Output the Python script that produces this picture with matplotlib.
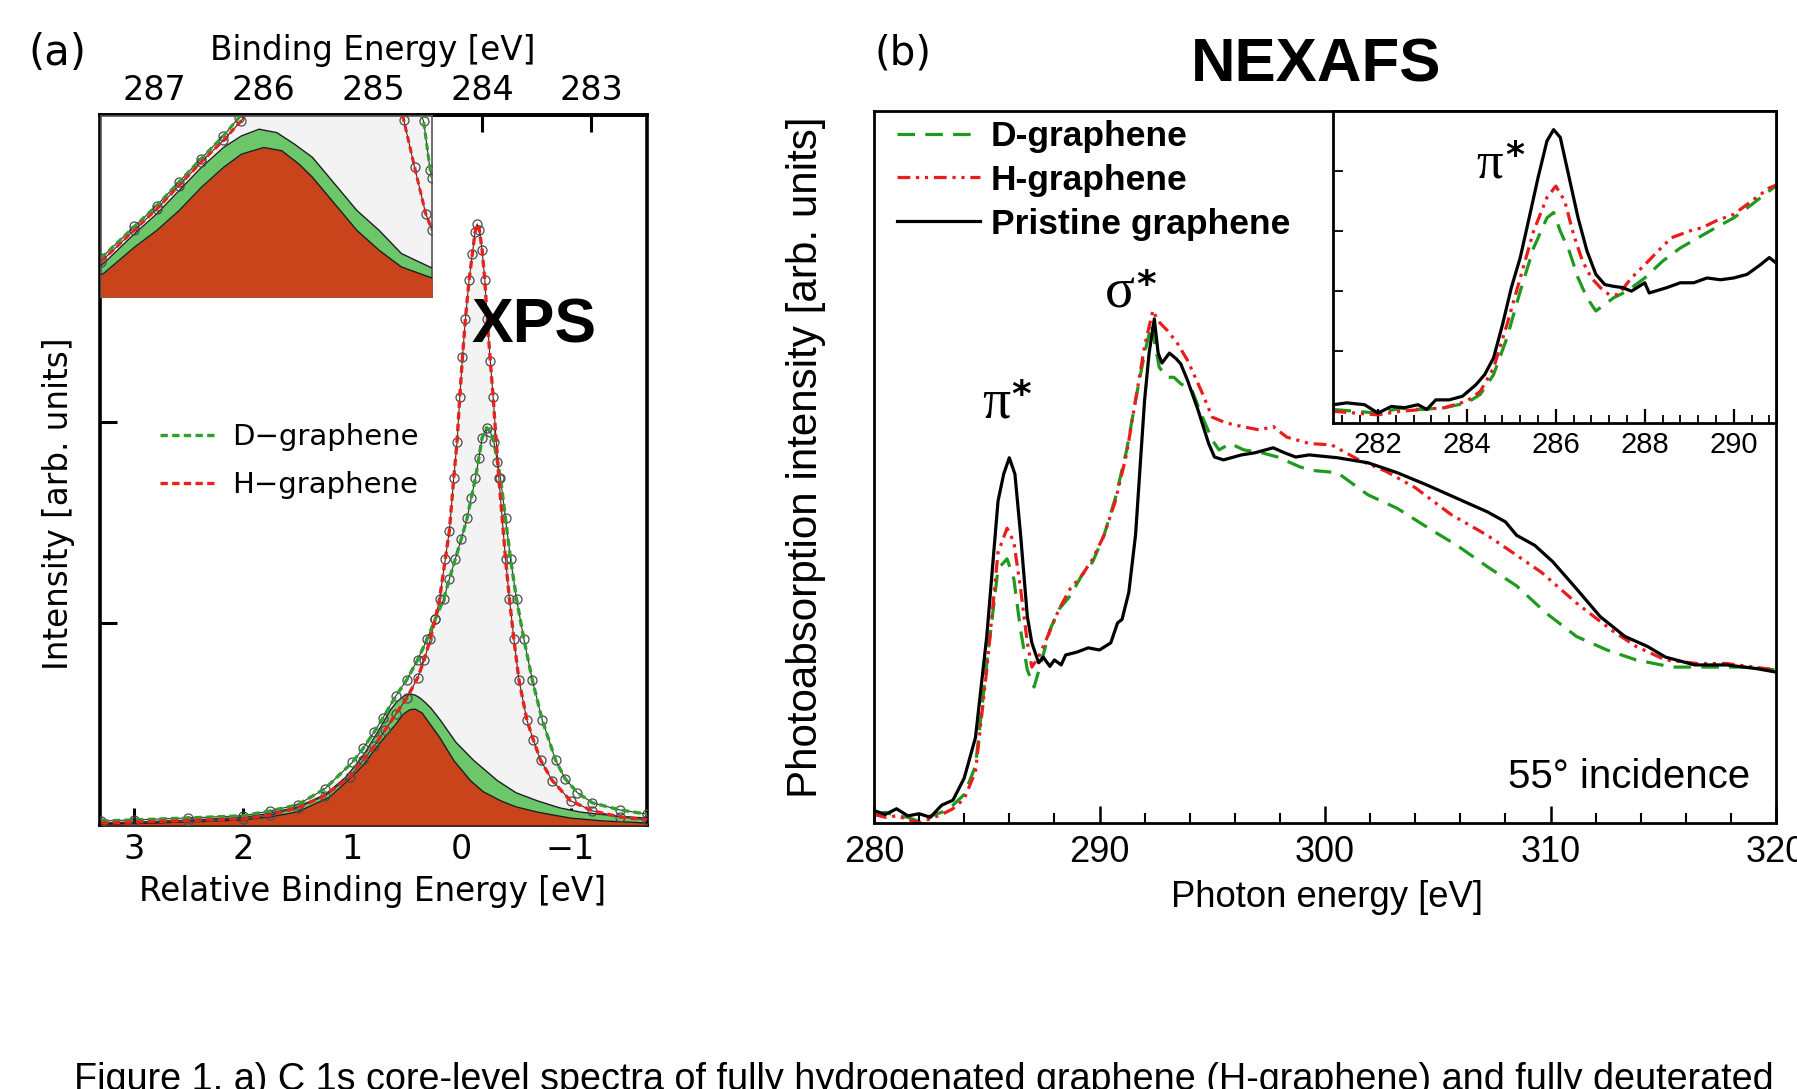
import matplotlib
matplotlib.use("Agg")
import matplotlib.pyplot as plt
from matplotlib.ticker import MultipleLocator

# ----------------------------------------------------------------------------
# DATA
# ----------------------------------------------------------------------------
# Panel (a) XPS, x = relative binding energy [eV], y = intensity [arb.]
xps_H_total = [(3.30, 0.010), (3.00, 0.015), (2.50, 0.022), (2.00, 0.030), (1.75, 0.050),
               (1.50, 0.085), (1.25, 0.145), (1.02, 0.24), (0.90, 0.32), (0.80, 0.39),
               (0.70, 0.47), (0.60, 0.55), (0.50, 0.63), (0.40, 0.73), (0.34, 0.82),
               (0.285, 0.92), (0.24, 1.02), (0.20, 1.12), (0.147, 1.32), (0.11, 1.46),
               (0.07, 1.72), (0.04, 1.90), (0.015, 2.12), (-0.01, 2.32), (-0.037, 2.51),
               (-0.07, 2.70), (-0.10, 2.83), (-0.125, 2.94), (-0.144, 2.98), (-0.165, 2.95),
               (-0.19, 2.85), (-0.215, 2.70), (-0.236, 2.51), (-0.265, 2.30), (-0.291, 2.12),
               (-0.343, 1.72), (-0.404, 1.32), (-0.44, 1.12), (-0.481, 0.92), (-0.527, 0.72),
               (-0.60, 0.52), (-0.66, 0.42), (-0.726, 0.32), (-0.833, 0.22), (-1.00, 0.12),
               (-1.20, 0.07), (-1.45, 0.04), (-1.70, 0.025)]
xps_D_total = [(3.30, 0.020), (3.00, 0.025), (2.50, 0.035), (2.00, 0.046), (1.75, 0.070),
               (1.50, 0.100), (1.25, 0.180), (1.00, 0.31), (0.90, 0.38), (0.80, 0.46),
               (0.72, 0.53), (0.60, 0.64), (0.50, 0.72), (0.40, 0.82), (0.315, 0.92),
               (0.24, 1.02), (0.162, 1.12), (0.11, 1.22), (0.055, 1.32), (0.00, 1.42),
               (-0.052, 1.52), (-0.09, 1.62), (-0.129, 1.72), (-0.16, 1.82), (-0.19, 1.92),
               (-0.23, 1.97), (-0.265, 1.95), (-0.297, 1.90), (-0.33, 1.80), (-0.358, 1.72),
               (-0.404, 1.52), (-0.45, 1.32), (-0.505, 1.12), (-0.573, 0.92), (-0.649, 0.72),
               (-0.741, 0.52), (-0.864, 0.32), (-0.95, 0.23), (-1.063, 0.16), (-1.20, 0.11),
               (-1.45, 0.075), (-1.70, 0.054)]
xps_D_comp = [(3.30, 0.010), (3.00, 0.013), (2.50, 0.024), (2.00, 0.038), (1.75, 0.058),
              (1.50, 0.090), (1.25, 0.150), (1.06, 0.236), (0.91, 0.335), (0.756, 0.47),
              (0.65, 0.57), (0.60, 0.605), (0.55, 0.63), (0.51, 0.643), (0.469, 0.65),
              (0.42, 0.643), (0.38, 0.63), (0.33, 0.607), (0.28, 0.58), (0.193, 0.52),
              (0.05, 0.41), (-0.113, 0.32), (-0.33, 0.22), (-0.50, 0.16), (-0.695, 0.12),
              (-0.90, 0.085), (-1.09, 0.064), (-1.40, 0.045), (-1.70, 0.034)]
xps_H_comp = [(3.30, 0.005), (3.00, 0.008), (2.50, 0.015), (2.00, 0.025), (1.75, 0.040),
              (1.50, 0.065), (1.21, 0.137), (1.06, 0.21), (0.909, 0.29), (0.756, 0.40),
              (0.60, 0.50), (0.53, 0.55), (0.47, 0.572), (0.42, 0.574), (0.36, 0.555),
              (0.30, 0.51), (0.20, 0.435), (0.07, 0.32), (-0.083, 0.22), (-0.20, 0.165),
              (-0.36, 0.12), (-0.50, 0.09), (-0.695, 0.064), (-1.00, 0.034), (-1.30, 0.020),
              (-1.70, 0.010)]
xps_xticks = [3, 2, 1, 0, -1]
xps_xticklabels = ['3', '2', '1', '0', '\u22121']
be_offset = 284.19                     # binding energy = relative + offset
be_ticks = [287, 286, 285, 284, 283]
xps_yticks = [1, 2, 3]

# Panel (a) inset (zoom on the low-intensity component; own normalisation)
ins_H_total = [(1.61, 0.195), (1.37, 0.37), (1.21, 0.485), (1.05, 0.615), (0.89, 0.745),
               (0.73, 0.865), (0.60, 0.975), (0.50, 1.10), (0.0, 4.0), (-0.52, 1.15),
               (-0.566, 0.98), (-0.645, 0.716), (-0.725, 0.46), (-0.77, 0.37)]
ins_D_total = [(1.61, 0.215), (1.37, 0.39), (1.21, 0.505), (1.05, 0.635), (0.89, 0.765),
               (0.73, 0.89), (0.62, 0.99), (0.55, 1.10), (0.0, 3.0), (-0.62, 1.15),
               (-0.71, 0.97), (-0.757, 0.70), (-0.77, 0.66)]
ins_D_comp = [(1.61, 0.175), (1.591, 0.185), (1.368, 0.35), (1.208, 0.46), (1.048, 0.588),
              (0.888, 0.716), (0.729, 0.826), (0.60, 0.89), (0.473, 0.927), (0.345, 0.908),
              (0.218, 0.844), (0.089, 0.771), (-0.07, 0.625), (-0.23, 0.478), (-0.39, 0.368),
              (-0.55, 0.24), (-0.77, 0.16)]
ins_H_comp = [(1.61, 0.125), (1.591, 0.13), (1.368, 0.276), (1.208, 0.368), (1.048, 0.478),
              (0.888, 0.606), (0.729, 0.716), (0.60, 0.789), (0.44, 0.826), (0.31, 0.808),
              (0.186, 0.734), (0.089, 0.661), (-0.07, 0.515), (-0.23, 0.368), (-0.39, 0.258),
              (-0.55, 0.166), (-0.77, 0.105)]
ins_xticks = [1, 0]

# Panel (b) NEXAFS, x = photon energy [eV], y = intensity [arb.]
nex_pristine = [(280, 0.0175), (280.5, 0.012), (281, 0.02), (281.5, 0.01), (282, 0.013),
                (282.5, 0.008), (283, 0.025), (283.5, 0.032), (284, 0.063), (284.5, 0.12),
                (285, 0.262), (285.5, 0.452), (285.75, 0.49), (286, 0.513), (286.25, 0.49),
                (286.5, 0.405), (286.8, 0.29), (287, 0.253), (287.3, 0.225), (287.5, 0.233),
                (287.8, 0.22), (288, 0.229), (288.3, 0.222), (288.5, 0.236), (289, 0.24),
                (289.5, 0.246), (290, 0.243), (290.5, 0.253), (290.8, 0.281), (291, 0.286),
                (291.3, 0.324), (291.6, 0.405), (291.8, 0.50), (292.0, 0.594), (292.2, 0.66),
                (292.43, 0.708), (292.6, 0.66), (292.77, 0.646), (293.1, 0.66), (293.4, 0.652),
                (293.6, 0.645), (293.9, 0.622), (294.37, 0.58), (294.84, 0.533), (295.1, 0.514),
                (295.5, 0.51), (296.3, 0.517), (296.9, 0.52), (297.7, 0.527), (298.2, 0.52),
                (298.7, 0.514), (299.3, 0.517), (300.55, 0.513), (301.9, 0.506), (303.2, 0.492),
                (304.5, 0.475), (305.85, 0.456), (307.2, 0.437), (308.0, 0.423), (308.5, 0.404),
                (309.3, 0.39), (310.1, 0.367), (311.15, 0.329), (312.2, 0.29), (313.3, 0.262),
                (314.3, 0.248), (315.1, 0.233), (316.4, 0.222), (317.8, 0.222), (319.1, 0.217),
                (320, 0.212)]
nex_H = [(280, 0.012), (280.5, 0.008), (281, 0.01), (281.5, 0.005), (282, 0.0),
         (282.5, 0.006), (283, 0.012), (283.5, 0.02), (284, 0.034), (284.5, 0.072),
         (285, 0.215), (285.5, 0.38), (285.9, 0.414), (286.2, 0.395), (286.5, 0.329),
         (286.8, 0.253), (287.0, 0.219), (287.3, 0.233), (287.7, 0.262), (288.2, 0.30),
         (288.7, 0.329), (289.2, 0.347), (289.7, 0.371), (290.2, 0.404), (290.7, 0.452),
         (291.2, 0.518), (291.6, 0.594), (292.0, 0.67), (292.37, 0.72), (292.6, 0.705),
         (293.0, 0.692), (293.45, 0.674), (293.9, 0.65), (294.5, 0.608), (295.0, 0.57),
         (295.6, 0.562), (296.3, 0.557), (297.1, 0.552), (297.7, 0.557), (298.3, 0.542),
         (299.3, 0.533), (300.3, 0.531), (301.5, 0.51), (302.7, 0.494), (304.0, 0.471),
         (305.6, 0.433), (307.2, 0.404), (308.5, 0.376), (309.6, 0.352), (311.15, 0.309),
         (312.7, 0.271), (313.8, 0.248), (315.1, 0.229), (316.5, 0.224), (317.8, 0.224),
         (320, 0.215)]
nex_D = [(280, 0.012), (280.5, 0.015), (281, 0.01), (281.5, 0.008), (282, 0.002),
         (282.5, 0.01), (283, 0.015), (283.5, 0.025), (284, 0.04), (284.5, 0.08),
         (285, 0.224), (285.5, 0.357), (285.9, 0.371), (286.2, 0.343), (286.5, 0.271),
         (286.8, 0.215), (287.1, 0.191), (287.4, 0.224), (287.8, 0.271), (288.2, 0.30),
         (288.7, 0.319), (289.2, 0.347), (289.7, 0.367), (290.2, 0.404), (290.7, 0.456),
         (291.2, 0.523), (291.6, 0.594), (292.0, 0.66), (292.3, 0.70), (292.65, 0.64),
         (293.0, 0.626), (293.3, 0.626), (293.6, 0.617), (294.1, 0.608), (294.5, 0.575),
         (295.0, 0.538), (295.3, 0.524), (295.8, 0.533), (296.4, 0.524), (297.2, 0.52),
         (297.9, 0.514), (298.9, 0.50), (299.5, 0.495), (300.55, 0.492), (301.9, 0.461),
         (303.2, 0.442), (304.8, 0.41), (305.85, 0.39), (307.2, 0.36), (308.5, 0.333),
         (309.8, 0.295), (311.15, 0.262), (312.5, 0.243), (313.8, 0.229), (315.4, 0.219),
         (317.0, 0.219), (318.6, 0.219), (320, 0.215)]
nex_xticks = [280, 290, 300, 310, 320]

# Panel (b) inset: pi* region
ins_pristine = [(281.0, 0.11), (281.3, 0.14), (281.7, 0.11), (282.0, -0.03), (282.3, 0.08),
                (282.6, 0.06), (282.9, 0.11), (283.1, 0.03), (283.3, 0.19), (283.6, 0.19),
                (283.9, 0.25), (284.2, 0.44), (284.4, 0.61), (284.6, 0.89), (284.8, 1.44),
                (285.0, 2.06), (285.2, 2.56), (285.4, 3.22), (285.6, 3.89), (285.8, 4.50),
                (285.95, 4.69), (286.1, 4.56), (286.3, 3.89), (286.5, 3.22), (286.7, 2.67),
                (286.9, 2.28), (287.1, 2.11), (287.3, 2.08), (287.5, 2.06), (287.7, 2.00),
                (288.0, 2.14), (288.1, 1.97), (288.5, 2.06), (288.8, 2.14), (289.1, 2.14),
                (289.4, 2.22), (289.7, 2.19), (290.0, 2.22), (290.3, 2.28), (290.6, 2.44),
                (290.8, 2.56), (291.0, 2.44)]
ins_H = [(281.0, 0.0), (281.5, -0.03), (282.0, -0.06), (282.5, 0.0), (283.0, 0.03),
         (283.5, 0.06), (284.0, 0.17), (284.3, 0.33), (284.6, 0.72), (284.9, 1.44),
         (285.2, 2.22), (285.5, 3.00), (285.8, 3.56), (286.0, 3.75), (286.2, 3.50),
         (286.4, 2.94), (286.6, 2.50), (286.8, 2.22), (287.0, 2.06), (287.2, 1.94),
         (287.4, 1.94), (287.7, 2.22), (288.0, 2.44), (288.3, 2.67), (288.6, 2.89),
         (289.0, 3.00), (289.3, 3.06), (289.6, 3.17), (290.0, 3.28), (290.4, 3.50),
         (290.8, 3.72), (291.0, 3.78)]
ins_D = [(281.0, 0.03), (281.5, 0.0), (282.0, -0.03), (282.5, 0.05), (283.0, 0.03),
         (283.5, 0.06), (284.0, 0.14), (284.3, 0.28), (284.6, 0.61), (284.9, 1.22),
         (285.2, 2.00), (285.5, 2.72), (285.8, 3.22), (285.95, 3.31), (286.1, 3.00),
         (286.3, 2.67), (286.5, 2.22), (286.7, 1.89), (286.9, 1.67), (287.1, 1.78),
         (287.3, 1.89), (287.6, 2.00), (288.0, 2.22), (288.4, 2.50), (288.8, 2.72),
         (289.2, 2.89), (289.6, 3.06), (290.0, 3.22), (290.4, 3.44), (290.8, 3.67),
         (291.0, 3.78)]
ins_nex_xticks = [282, 284, 286, 288, 290]
ins_nex_yticks = [1, 2, 3, 4]

caption = ("Figure 1. a) C 1s core-level spectra of fully hydrogenated graphene "
           "(H-graphene) and fully deuterated")

# ----------------------------------------------------------------------------
W, H = 1797, 1089
fig = plt.figure(figsize=(W / 100, H / 100), dpi=100)
fig.patch.set_facecolor('white')


def box(l, t, r, b):
    return [l / W, 1 - b / H, (r - l) / W, (b - t) / H]


def fx(x):
    return x / W


def fy(y):
    return 1 - y / H


def unzip(p):
    return [a for a, _ in p], [b for _, b in p]


SANS_A = ['DejaVu Sans']
SANS_B = ['Liberation Sans', 'DejaVu Sans']
SERIF = ['Liberation Serif', 'DejaVu Serif']

RED_FILL = '#c9431b'
GREEN_FILL = '#6cc76a'
GRAY_FILL = '#f3f3f3'
RED_LINE = '#e8231d'
GREEN_LINE = '#2f9f2f'
EDGE = '#1e1e1e'


def draw_xps(ax, Ht, Dt, Hc, Dc, markers=True, lw=2.4):
    rH, iH = unzip(Ht)
    rD, iD = unzip(Dt)
    crH, ciH = unzip(Hc)
    crD, ciD = unzip(Dc)
    ax.fill_between(rH, iH, color=GRAY_FILL, lw=0, zorder=1)
    ax.fill_between(rD, iD, color=GRAY_FILL, lw=0, zorder=1)
    ax.fill_between(crD, ciD, color=GREEN_FILL, lw=0, zorder=2)
    ax.plot(crD, ciD, color=EDGE, lw=1.0, zorder=3)
    ax.fill_between(crH, ciH, color=RED_FILL, lw=0, zorder=3)
    ax.plot(crH, ciH, color=EDGE, lw=1.0, zorder=4)
    if markers:
        for r, i in ((rD, iD), (rH, iH)):
            ax.plot(r, i, ls='none', marker='o', ms=6.5, mfc='none',
                    mec='#4a4a4a', mew=0.9, zorder=5)
    ax.plot(rD, iD, color='#333333', lw=0.8, zorder=6)
    ax.plot(rH, iH, color='#333333', lw=0.8, zorder=6)
    lD, = ax.plot(rD, iD, color=GREEN_LINE, lw=lw, dashes=(2.2, 1.3), zorder=7)
    lH, = ax.plot(rH, iH, color=RED_LINE, lw=lw, dashes=(2.2, 1.3), zorder=7)
    return lD, lH


# ----------------------------- Panel (a) -------------------------------------
axA = fig.add_axes(box(100, 115, 647, 825))
lD, lH = draw_xps(axA, xps_H_total, xps_D_total, xps_H_comp, xps_D_comp)
axA.set_xlim(3.31, -1.70)
axA.set_ylim(0, 3.52)
axA.set_xticks(xps_xticks)
axA.set_xticklabels(xps_xticklabels, family=SANS_A)
axA.set_yticks(xps_yticks)
axA.set_yticklabels([])
axA.tick_params(direction='in', length=12, width=2.2, labelsize=24, pad=6,
                top=False, right=False)
for s in axA.spines.values():
    s.set_linewidth(2.6)
axA.set_xlabel('Relative Binding Energy [eV]', fontsize=23.5, family=SANS_A, va='center')
axA.xaxis.set_label_coords(0.498, -0.094)
axA.set_ylabel('Intensity [arb. units]', fontsize=23.5, family=SANS_A, va='center')
axA.yaxis.set_label_coords(-0.075, 0.452)

secA = axA.secondary_xaxis('top', functions=(lambda r: r + be_offset,
                                             lambda b: b - be_offset))
secA.set_xticks(be_ticks)
secA.set_xticklabels([str(t) for t in be_ticks], family=SANS_A)
secA.tick_params(direction='in', length=12, width=2.2, labelsize=24, pad=6)
secA.spines['top'].set_linewidth(2.6)
secA.set_xlabel('Binding Energy [eV]', fontsize=23.5, family=SANS_A, va='center')
secA.xaxis.set_label_coords(0.498, 1.0915, transform=axA.transAxes)

axA.legend([lD, lH], ['D\u2212graphene', 'H\u2212graphene'], loc='upper left',
           bbox_to_anchor=(0.11, 0.566), frameon=False,
           prop={'family': SANS_A, 'size': 21}, handlelength=1.85,
           handletextpad=0.6, labelspacing=0.68, borderpad=0, borderaxespad=0)

fig.text(fx(534), fy(326), 'XPS', fontsize=45, fontweight='bold', family=SANS_B,
         ha='center', va='center', zorder=10)

# inset of panel (a)
axAi = fig.add_axes(box(101, 116, 432, 297))
axAi.set_facecolor('white')
draw_xps(axAi, ins_H_total, ins_D_total, ins_H_comp, ins_D_comp, lw=2.2)
axAi.set_xlim(1.61, -0.77)
axAi.set_ylim(0, 1)
axAi.set_xticks(ins_xticks)
axAi.set_xticklabels([])
axAi.set_yticks([])
axAi.tick_params(axis='x', direction='in', length=12, width=2.6, color='black')
for s in axAi.spines.values():
    s.set_linewidth(1.2)
    s.set_color('#555555')

# ----------------------------- Panel (b) -------------------------------------
STY = {
    'D': dict(color='#1f9a1f', lw=2.3, dashes=(5.5, 3.2)),
    'H': dict(color='#ea1c1c', lw=2.3, dashes=(4.0, 1.8, 1.0, 1.8, 1.0, 1.8)),
    'P': dict(color='black', lw=2.3),
}

axB = fig.add_axes(box(874, 111, 1776, 823))
eD, vD = unzip(nex_D)
eH, vH = unzip(nex_H)
eP, vP = unzip(nex_pristine)
axB.plot(eD, vD, label='D-graphene', **STY['D'])
axB.plot(eH, vH, label='H-graphene', **STY['H'])
axB.plot(eP, vP, label='Pristine graphene', **STY['P'])
axB.set_xlim(280, 320)
axB.set_ylim(0, 1)
axB.set_xticks(nex_xticks)
axB.xaxis.set_minor_locator(MultipleLocator(2))
axB.set_yticks([])
axB.tick_params(axis='x', which='major', direction='in', length=12, width=1.8,
                labelsize=26, pad=9, top=False)
axB.tick_params(axis='x', which='minor', direction='in', length=7, width=1.5, top=False)
for lab in axB.get_xticklabels():
    lab.set_family(SANS_B)
for s in axB.spines.values():
    s.set_linewidth(2.0)
axB.set_xlabel('Photon energy [eV]', fontsize=26.3, family=SANS_B, va='center')
axB.xaxis.set_label_coords(0.502, -0.104)
axB.set_ylabel('Photoabsorption intensity [arb. units]', fontsize=30.3, family=SANS_B,
               va='center')
axB.yaxis.set_label_coords(-0.0758, 0.513)
axB.legend(loc='upper left', bbox_to_anchor=(0.0255, 0.987), frameon=False,
           prop={'family': SANS_B, 'size': 25.5, 'weight': 'bold'}, handlelength=2.35,
           handletextpad=0.3, labelspacing=0.3, borderpad=0, borderaxespad=0)


def star_label(ax, greek, x_greek, y_base, x_star, size_g, size_s):
    ax.text(fx(x_greek), fy(y_base), greek, transform=fig.transFigure, fontsize=size_g,
            family=SERIF, ha='center', va='baseline', zorder=10)
    ax.text(fx(x_star), fy(y_base - 22), '*', transform=fig.transFigure, fontsize=size_s,
            family=['DejaVu Sans'], fontweight='bold', ha='center', va='center', zorder=10)


star_label(axB, '\u03c0', 996, 418, 1021, 40, 27)
star_label(axB, '\u03c3', 1120, 308, 1146, 40, 27)
axB.text(fx(1750), fy(777), '55\u00b0 incidence', transform=fig.transFigure,
         fontsize=29, family=SANS_B, ha='right', va='center')

# inset of panel (b)
axBi = fig.add_axes(box(1333, 111, 1776, 423))
axBi.set_facecolor('white')
for data, key in ((ins_D, 'D'), (ins_H, 'H'), (ins_pristine, 'P')):
    e, v = unzip(data)
    axBi.plot(e, v, **STY[key])
axBi.set_xlim(280.99, 290.95)
axBi.set_ylim(-0.195, 5.0)
axBi.set_xticks(ins_nex_xticks)
axBi.xaxis.set_minor_locator(MultipleLocator(0.4))
axBi.set_yticks(ins_nex_yticks)
axBi.set_yticklabels([])
axBi.tick_params(axis='x', which='major', direction='in', length=10, width=1.6,
                 labelsize=21, pad=6)
axBi.tick_params(axis='x', which='minor', direction='in', length=6, width=1.3)
axBi.tick_params(axis='y', direction='in', length=7, width=1.3)
for lab in axBi.get_xticklabels():
    lab.set_family(SANS_B)
for s in axBi.spines.values():
    s.set_linewidth(2.0)
star_label(axBi, '\u03c0', 1490, 178, 1515, 38, 26)

# ----------------------------- figure texts ----------------------------------
fig.text(fx(57), fy(53), '(a)', fontsize=30, family=SANS_A, ha='center', va='center')
fig.text(fx(903), fy(53), '(b)', fontsize=29, family=SANS_A, ha='center', va='center')
fig.text(fx(1316), fy(66), 'NEXAFS', fontsize=44.5, fontweight='bold', family=SANS_B,
         ha='center', va='center')

cap = fig.text(fx(74), fy(1062), caption, fontsize=24, family=SANS_B, ha='left', va='top')
fig.canvas.draw()
bb = cap.get_window_extent()
cap.set_fontsize(24 * 1700 / bb.width)

fig.savefig('out.png', dpi=100, facecolor='white')
